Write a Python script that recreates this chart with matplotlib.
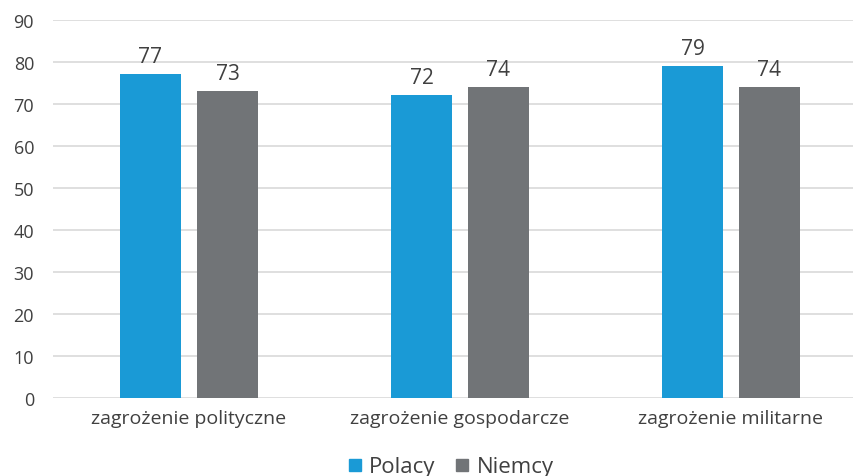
import numpy as np
import matplotlib
matplotlib.use('Agg')
import matplotlib.pyplot as plt
from matplotlib.lines import Line2D

# ── Data ─────────────────────────────────────────────────────────────────────
categories = ['zagrożenie polityczne', 'zagrożenie gospodarcze', 'zagrożenie militarne']
series_names = ['Polacy', 'Niemcy']
polacy = [77, 72, 79]
niemcy = [73, 74, 74]
yticks = list(range(0, 100, 10))

BLUE = '#1a9ad6'
GRAY = '#717477'
TEXT = '#404040'

plt.rcParams['font.family'] = ['Open Sans', 'DejaVu Sans']

fig = plt.figure(figsize=(8.54, 4.77), dpi=100)
ax = fig.add_axes([0.0626, 0.1642, 0.952, 0.7924])

x = np.arange(len(categories))
w = 0.225
off = 0.142
b1 = ax.bar(x - off, polacy, w, color=BLUE, zorder=3)
b2 = ax.bar(x + off, niemcy, w, color=GRAY, zorder=3)

# value labels above each bar
for bars, vals in ((b1, polacy), (b2, niemcy)):
    for rect, v in zip(bars, vals):
        ax.annotate(str(v), (rect.get_x() + rect.get_width() / 2, v),
                    xytext=(0, 5), textcoords='offset points',
                    ha='center', va='bottom', fontsize=15, color=TEXT)

ax.set_xlim(-0.5, len(categories) - 0.5)
ax.set_ylim(0, 90)
ax.set_yticks(yticks)
ax.set_xticks(x)
ax.set_xticklabels(categories)
ax.tick_params(axis='y', length=0, pad=14, labelsize=13, labelcolor=TEXT)
ax.tick_params(axis='x', length=0, pad=8, labelsize=14, labelcolor=TEXT)
ax.yaxis.grid(True, color='#d9d9d9', linewidth=1.2, zorder=0)
ax.set_axisbelow(True)
for s in ax.spines.values():
    s.set_visible(False)

handles = [Line2D([], [], marker='s', linestyle='none', markersize=9, color=c)
           for c in (BLUE, GRAY)]
fig.legend(handles, series_names, loc='center', bbox_to_anchor=(443 / 854, 1 - 468 / 477),
           ncol=2, frameon=False, fontsize=16, handletextpad=-0.35, columnspacing=0.2,
           labelcolor=TEXT)

fig.savefig('out.png', dpi=100)
